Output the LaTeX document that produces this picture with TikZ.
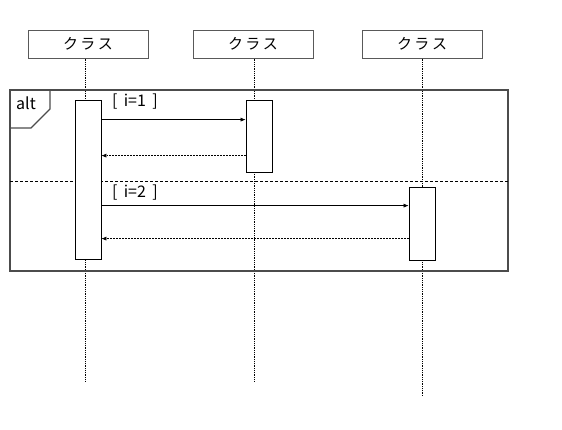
\documentclass[tikz,border=0pt]{standalone}
\usepackage{fontspec}
\setmainfont{Noto Sans CJK JP}
\usetikzlibrary{arrows.meta}

\tikzset{
  clsbox/.style={draw=black!65, line width=1pt, minimum width=120pt, minimum height=28pt, inner sep=0pt, font=\fontsize{15}{17}\selectfont},
  actbox/.style={draw, fill=white, line width=0.8pt, minimum width=26pt, inner sep=0pt},
  lifeline/.style={densely dotted, line width=0.8pt},
  msg/.style={-{Latex[length=5pt,width=4pt]}, line width=0.5pt},
  reply/.style={-{Latex[length=5pt,width=4pt]}, densely dotted, line width=0.5pt},
  guard/.style={font=\fontsize{16}{18}\selectfont, inner sep=0pt}
}

\begin{document}
\begin{tikzpicture}[x=1pt, y=-1pt]
  \useasboundingbox (0,0) rectangle (562,429);
  % classes
  \node[clsbox] (c1) at (88,44) {ク\,ラ\,ス};
  \node[clsbox] (c2) at (253,44) {ク\,ラ\,ス};
  \node[clsbox] (c3) at (422,44) {ク\,ラ\,ス};
  \coordinate (e1) at (85,381);
  \coordinate (e2) at (254,381);
  \coordinate (e3) at (422,396);
  \draw[lifeline] (c1.south -| e1) -- (e1);
  \draw[lifeline] (c2.south -| e2) -- (e2);
  \draw[lifeline] (c3.south) -- (e3);
  % alt frame
  \draw[black!70, line width=1.1pt] (10,90) rectangle (508,271);
  \draw[black!70, line width=1.1pt] (10,128) -- (31,128) -- (50,109) -- (50,90);
  \node[guard, anchor=west] (alt) at (16,103) {alt};
  \draw[densely dashed, line width=0.5pt] (10,181) -- (508,181);
  % activations
  \node[actbox, minimum height=159pt] (a1) at (88,179.5) {};
  \node[actbox, minimum height=72pt] (a2) at (259,136) {};
  \node[actbox, minimum height=73pt] (a3) at (422,223.5) {};
  % messages
  \node[guard, anchor=west] (g1) at (112,102) {[\,\ i=1\,\ ]};
  \draw[msg] ([yshift=-20pt]a1.north east) -- ([yshift=-20pt]a2.north west);
  \draw[reply] ([yshift=-56pt]a2.north west) -- ([yshift=-56pt]a1.north east);
  \node[guard, anchor=west] (g2) at (112,193) {[\,\ i=2\,\ ]};
  \draw[msg] ([yshift=-106pt]a1.north east) -- ([yshift=-19pt]a3.north west);
  \draw[reply] ([yshift=-52pt]a3.north west) -- ([yshift=-139pt]a1.north east);
\end{tikzpicture}
\end{document}
